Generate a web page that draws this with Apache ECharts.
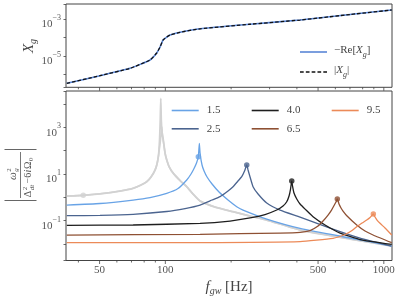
<!DOCTYPE html>
<html><head><meta charset="utf-8">
<script src="https://cdn.jsdelivr.net/npm/echarts@6/dist/echarts.min.js"></script>
<style>html,body{margin:0;padding:0;background:#fff}#c{width:399px;height:299px}</style>
</head><body><div id="c"></div>
<script>
// ---------- top panel data: X_g vs f_gw ----------
const xgFreq  = [35.4, 50.2, 68.9, 85.1, 91.3, 94.6, 97.6, 101.5, 105.1, 116.8, 144.2, 244.2, 413.6, 700.3, 1087];
const xgNegRe = [3.34e-7, 8.6e-7, 2.16e-6, 6.1e-6, 1.45e-5, 3.06e-5, 7.3e-5, 1.06e-4, 1.36e-4, 1.91e-4, 2.95e-4, 5.2e-4, 8.8e-4, 1.75e-3, 3.06e-3];
const xgAbs   = [3.34e-7, 8.6e-7, 2.16e-6, 6.1e-6, 1.45e-5, 3.06e-5, 7.3e-5, 1.06e-4, 1.36e-4, 1.91e-4, 2.95e-4, 5.2e-4, 8.8e-4, 1.75e-3, 3.06e-3];

// ---------- bottom panel data: [f_gw, |w^2/(...)|] ----------
const curveGreyA = [[35.4,1.14],[42.1,1.22],[50.2,1.42],[62.0,1.87],[71.2,2.44],[77.4,3.38],[82.2,4.68],[86.0,7.44],[89.7,14.8],[91.6,26.8],[93.1,65.1],[94.1,286],[94.8,2054],[95.3,17460],[95.8,2054],[96.6,629],[97.9,286],[99.7,79],[101.5,39.8],[104.0,20.9],[108.8,10.7],[116.8,5.27],[125.3,2.86],[133.9,1.39],[144.2,0.70],[168.8,0.386],[204.1,0.243],[244.2,0.159],[291.1,0.107],[413.6,0.040],[700.3,0.0164],[1087,0.00826]];
const curveGreyB = [[35.4,1.14],[42.1,1.22],[50.2,1.42],[62.0,1.87],[71.2,2.44],[77.4,3.38],[82.2,4.68],[86.0,7.44],[89.7,14.8],[91.6,26.8],[93.1,65.1],[94.6,200],[95.6,480],[96.3,1062],[96.9,480],[97.9,250],[99.7,79],[101.5,39.8],[104.0,20.9],[108.8,10.7],[116.8,5.27],[125.3,2.86],[133.9,1.39],[144.2,0.70],[168.8,0.386],[204.1,0.243],[244.2,0.159],[291.1,0.107],[413.6,0.040],[700.3,0.0164],[1087,0.00826]];
const curve15 = [[35.4,0.470],[50.2,0.546],[71.2,0.77],[85.1,0.985],[101.5,1.49],[114.3,2.39],[125.3,5.53],[131.1,10],[135.3,17.2],[138.9,29.6],[141.6,55],[143.1,206],[144.2,79],[147.2,24.3],[150.4,13.4],[155.2,7.44],[163.6,3.73],[176.1,1.69],[193.6,0.77],[212.2,0.398],[226.8,0.287],[291.1,0.118],[413.6,0.0473],[700.3,0.0182],[1087,0.00826]];
const curve25 = [[35.4,0.164],[50.2,0.170],[71.2,0.188],[101.5,0.248],[123.1,0.333],[144.2,0.470],[163.6,0.77],[178,1.07],[193.6,1.87],[204.1,2.86],[215.1,5.01],[223.7,7.66],[230.4,13.4],[235.8,24.3],[239.1,14.8],[244.2,7.44],[252,2.86],[265.7,1.39],[291.1,0.573],[334.9,0.287],[413.6,0.144],[567.3,0.0487],[778.2,0.0182],[1087,0.00826]];
const curve40 = [[35.4,0.0636],[71.2,0.0655],[144.2,0.0774],[197.8,0.0971],[244.2,0.131],[285.9,0.184],[323.5,0.287],[345.7,0.426],[359.4,0.651],[368.3,1.14],[374.1,2.28],[378.9,5.01],[382.1,3.06],[388,1.54],[399.5,0.85],[413.6,0.519],[440.6,0.287],[474.3,0.148],[538.2,0.0655],[630.2,0.0297],[778.2,0.01567],[1087,0.00975]];
const curve65 = [[35.4,0.0244],[144.2,0.0262],[334.9,0.0297],[413.6,0.0319],[459.5,0.038],[500,0.0593],[526.9,0.0971],[555.5,0.175],[576.3,0.287],[591.7,0.448],[604.3,0.633],[612.6,0.85],[623.7,0.519],[636.9,0.35],[650.5,0.26],[678.8,0.159],[751.6,0.0655],[820.3,0.0362],[893,0.0244],[1087,0.01143]];
const curve95 = [[35.4,0.01143],[144.2,0.0116],[413.6,0.01285],[585.5,0.0176],[664.6,0.02565],[715.3,0.038],[754,0.0565],[794.8,0.0797],[835.2,0.107],[864.8,0.137],[895.4,0.194],[911.6,0.144],[930.9,0.107],[961,0.0774],[1012.7,0.0487],[1087,0.0244]];

// marker dots
const dotGrey = [42.1, 1.22];
const dot15 = [141.6, 55];
const dot25 = [235.8, 24.3];
const dot40 = [378.9, 5.01];
const dot65 = [612.6, 0.85];
const dot95 = [895.4, 0.194];

// ---------- tick labels ----------
const xMajorTicks = [50, 100, 500, 1000];
const xMajorLabels = ['50', '100', '500', '1000'];
const xMinorTicks = [40, 60, 70, 80, 90, 200, 300, 400, 600, 700, 800, 900];
const topYLabelExps = [-3, -5];
const botYLabelExps = [3, 1, -1];

// ---------- layout / style ----------
const FONT = '"Liberation Serif", "DejaVu Serif", serif';
const TXT = '#555';
const xMin = 35.1, xMax = 1090;
const topYMin = 2.03e-7, topYMax = 6.47e-3;
const botYMin = 1.98e-3, botYMax = 3.59e4;

const colors = {grey:'#d2d2d2', c15:'#68a3e6', c25:'#4b648f', c40:'#1e1e1e', c65:'#8e5033', c95:'#ec8a58', blue:'#5a86d6'};

function supLabel(v, keep) {
  const e = Math.log10(v), r = Math.round(e);
  if (Math.abs(e - r) > 1e-6 || keep.indexOf(r) < 0) return '';
  return '{b|10}{s|' + (r < 0 ? '\u2212' : '') + Math.abs(r) + '}';
}
const supRich = {
  b: {fontFamily: FONT, fontSize: 11, color: TXT, lineHeight: 16, verticalAlign: 'bottom'},
  s: {fontFamily: FONT, fontSize: 8, color: TXT, lineHeight: 8, verticalAlign: 'top'}
};

function tickData(yv) {
  return xMajorTicks.map((v, i) => [v, yv, 1, i]).concat(xMinorTicks.map(v => [v, yv, 0, -1]));
}
function tickSeries(gi, yv, withLabels) {
  return {
    type: 'custom', xAxisIndex: gi, yAxisIndex: gi, silent: true, clip: false, z: 10,
    data: tickData(yv),
    renderItem: function (params, api) {
      const v = api.value(0), major = api.value(2), li = api.value(3);
      const p = api.coord([v, yv]);
      const len = major ? 3.5 : 2;
      const children = [{type: 'line', shape: {x1: p[0], y1: p[1], x2: p[0], y2: p[1] + len}, style: {stroke: '#444', lineWidth: 0.8}}];
      if (withLabels && major) {
        children.push({type: 'text', style: {text: xMajorLabels[li], x: p[0], y: p[1] + len + 0.5, align: 'center', verticalAlign: 'top', font: '11px ' + FONT, fill: TXT}});
      }
      return {type: 'group', children: children};
    }
  };
}

function lineS(name, data, color, width, gi, extra) {
  return Object.assign({type: 'line', name: name, xAxisIndex: gi, yAxisIndex: gi, data: data, symbol: 'none', smooth: 0.15,
    lineStyle: {color: color, width: width}, itemStyle: {color: color}}, extra || {});
}
function dotS(pt, color) {
  return {type: 'scatter', xAxisIndex: 1, yAxisIndex: 1, data: [pt], symbolSize: 5.5, itemStyle: {color: color}, z: 5, silent: true};
}

const axisCommonX = {type: 'log', min: xMin, max: xMax, axisLine: {show: false}, axisTick: {show: false}, axisLabel: {show: false}, splitLine: {show: false}, minorTick: {show: false}};

const dashIcon = 'path://M0,0h3.5v1h-3.5z M5.5,0h3.5v1h-3.5z M11,0h3.5v1h-3.5z M16.5,0h3.5v1h-3.5z M22,0h3.5v1h-3.5z';
const legendText = {fontFamily: FONT, fontSize: 11, color: '#444', lineHeight: 13, padding: [0, 0, 0, 3]};
const legendTextTop = {fontFamily: FONT, fontSize: 11, color: '#444', lineHeight: 14, padding: [0, 0, 0, 2],
  rich: {n: {fontFamily: FONT, fontSize: 11, color: '#444', lineHeight: 14, verticalAlign: 'top'},
         i: {fontFamily: FONT, fontStyle: 'italic', fontSize: 11, color: '#444', lineHeight: 14, verticalAlign: 'top'},
         s: {fontFamily: FONT, fontStyle: 'italic', fontSize: 8, color: '#444', lineHeight: 8, verticalAlign: 'bottom'}}};
const legendCommon = {orient: 'vertical', itemWidth: 27, itemHeight: 1.6, selectedMode: false, symbolKeepAspect: false};

const option = {
  animation: false,
  backgroundColor: '#fff',
  grid: [
    {left: 66, width: 326, top: 4, height: 83.3, show: true, borderColor: '#444', borderWidth: 1},
    {left: 66, width: 326, top: 91, height: 169.5, show: true, borderColor: '#444', borderWidth: 1}
  ],
  xAxis: [Object.assign({gridIndex: 0}, axisCommonX), Object.assign({gridIndex: 1}, axisCommonX)],
  yAxis: [
    {type: 'log', gridIndex: 0, min: topYMin, max: topYMax, axisLine: {show: false}, splitLine: {show: false},
     axisTick: {show: true, length: 2.5, lineStyle: {color: '#444', width: 0.8}},
     axisLabel: {formatter: v => supLabel(v, topYLabelExps), rich: supRich, margin: 5, padding: [6, 0, 0, 0]}},
    {type: 'log', gridIndex: 1, min: botYMin, max: botYMax, axisLine: {show: false}, splitLine: {show: false},
     axisTick: {show: true, length: 2.5, lineStyle: {color: '#444', width: 0.8}},
     axisLabel: {formatter: v => supLabel(v, botYLabelExps), rich: supRich, margin: 5, padding: [6, 0, 0, 0]}}
  ],
  legend: [
    Object.assign({data: [{name: 'negRe', icon: 'rect'}, {name: 'abs', icon: dashIcon}], left: 295, top: 40, itemGap: 6,
     formatter: n => n === 'negRe' ? '{n|\u2212Re[}{i|X}{s|g}{n|]}' : '{n||}{i|X}{s|g}{n||}', textStyle: legendTextTop}, legendCommon),
    Object.assign({data: [{name: '1.5', icon: 'rect'}, {name: '2.5', icon: 'rect'}], left: 166.7, top: 99, itemGap: 5.3, textStyle: legendText}, legendCommon),
    Object.assign({data: [{name: '4.0', icon: 'rect'}, {name: '6.5', icon: 'rect'}], left: 246.7, top: 99, itemGap: 5.3, textStyle: legendText}, legendCommon),
    Object.assign({data: [{name: '9.5', icon: 'rect'}], left: 326.7, top: 99, itemGap: 5.3, textStyle: legendText}, legendCommon)
  ],
  series: [
    lineS('negRe', xgFreq.map((f, i) => [f, xgNegRe[i]]), colors.blue, 1.6, 0),
    lineS('abs', xgFreq.map((f, i) => [f, xgAbs[i]]), '#111', 1.3, 0, {lineStyle: {color: '#111', width: 1.3, type: [3.5, 2]}}),
    lineS('greyA', curveGreyA, colors.grey, 1.8, 1),
    lineS('greyB', curveGreyB, colors.grey, 1.6, 1),
    lineS('1.5', curve15, colors.c15, 1.3, 1),
    lineS('2.5', curve25, colors.c25, 1.3, 1),
    lineS('4.0', curve40, colors.c40, 1.3, 1),
    lineS('6.5', curve65, colors.c65, 1.3, 1),
    lineS('9.5', curve95, colors.c95, 1.3, 1),
    dotS(dotGrey, colors.grey), dotS(dot15, colors.c15), dotS(dot25, colors.c25),
    dotS(dot40, colors.c40), dotS(dot65, colors.c65), dotS(dot95, colors.c95),
    tickSeries(0, topYMin, false),
    tickSeries(1, botYMin, true)
  ],
  graphic: [
    {type: 'text', x: 30, y: 46, rotation: Math.PI / 2, silent: true,
     style: {text: '{i|X}{s|g}', align: 'center', verticalAlign: 'middle',
       rich: {i: {fontFamily: FONT, fontStyle: 'italic', fontSize: 15, fill: '#444', lineHeight: 16, verticalAlign: 'top'},
              s: {fontFamily: FONT, fontStyle: 'italic', fontSize: 10, fill: '#444', lineHeight: 8, verticalAlign: 'bottom'}}}},
    {type: 'text', x: 229, y: 288, silent: true,
     style: {text: '{i|f}{s|gw}{n| [Hz]}', align: 'center', verticalAlign: 'middle',
       rich: {i: {fontFamily: FONT, fontStyle: 'italic', fontSize: 15, fill: '#444', lineHeight: 16, verticalAlign: 'top'},
              n: {fontFamily: FONT, fontSize: 15, fill: '#444', lineHeight: 16, verticalAlign: 'top'},
              s: {fontFamily: FONT, fontStyle: 'italic', fontSize: 10, fill: '#444', lineHeight: 8, verticalAlign: 'bottom'}}}},
    {type: 'group', x: 20.5, y: 175, rotation: Math.PI / 2, silent: true, children: [
      {type: 'line', shape: {x1: -23, y1: 0, x2: 23, y2: 0}, style: {stroke: '#555', lineWidth: 0.8}},
      {type: 'line', shape: {x1: -25.5, y1: -16, x2: -25.5, y2: 16}, style: {stroke: '#555', lineWidth: 0.9}},
      {type: 'line', shape: {x1: 25.5, y1: -16, x2: 25.5, y2: 16}, style: {stroke: '#555', lineWidth: 0.9}},
      {type: 'text', style: {text: '\u03c9', x: -1, y: -7.5, align: 'center', verticalAlign: 'middle', font: 'italic 11px ' + FONT, fill: '#555'}},
      {type: 'text', style: {text: '2', x: 5, y: -11.5, align: 'center', verticalAlign: 'middle', font: '7px ' + FONT, fill: '#555'}},
      {type: 'text', style: {text: 'g', x: 5, y: -4.5, align: 'center', verticalAlign: 'middle', font: 'italic 7px ' + FONT, fill: '#555'}},
      {type: 'text', style: {text: '\u0394', x: -19, y: 8, align: 'center', verticalAlign: 'middle', font: '10px ' + FONT, fill: '#555'}},
      {type: 'text', style: {text: '2', x: -13.5, y: 4.5, align: 'center', verticalAlign: 'middle', font: '7px ' + FONT, fill: '#555'}},
      {type: 'text', style: {text: 'dt', x: -12.5, y: 11.5, align: 'center', verticalAlign: 'middle', font: 'italic 7px ' + FONT, fill: '#555'}},
      {type: 'text', style: {text: '\u22126', x: -8.5, y: 8, align: 'left', verticalAlign: 'middle', font: '10px ' + FONT, fill: '#555'}},
      {type: 'text', style: {text: 'i', x: 2.5, y: 8, align: 'left', verticalAlign: 'middle', font: 'italic 10px ' + FONT, fill: '#555'}},
      {type: 'text', style: {text: '\u03a9', x: 6, y: 8, align: 'left', verticalAlign: 'middle', font: '10px ' + FONT, fill: '#555'}},
      {type: 'text', style: {text: '0', x: 14, y: 11, align: 'left', verticalAlign: 'middle', font: '7px ' + FONT, fill: '#555'}}
    ]}
  ]
};
const chart = echarts.init(document.getElementById('c'));
chart.setOption(option);
</script>
</body></html>
